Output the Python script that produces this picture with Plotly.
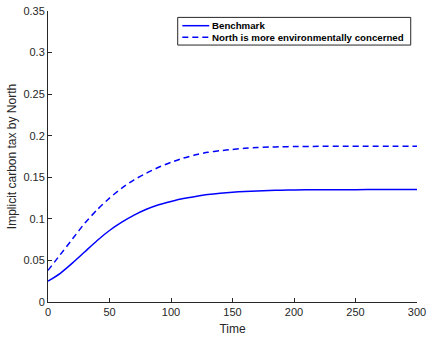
import plotly.graph_objects as go

time = [0, 10, 20, 30, 40, 50, 60, 70, 80, 90, 100, 110, 120, 130, 140, 150,
        160, 170, 180, 190, 200, 220, 240, 260, 280, 300]
benchmark = [0.025, 0.0345, 0.047, 0.0605, 0.074, 0.086, 0.096, 0.1045, 0.1115, 0.117,
             0.121, 0.1245, 0.127, 0.1292, 0.1308, 0.132, 0.1329, 0.1336, 0.1341,
             0.1345, 0.1348, 0.135, 0.1351, 0.1352, 0.1352, 0.1352]
north_concerned = [0.038, 0.057, 0.076, 0.095, 0.111, 0.125, 0.137, 0.147, 0.155, 0.162,
                   0.168, 0.173, 0.177, 0.180, 0.182, 0.1835, 0.1848, 0.1857, 0.1863,
                   0.1867, 0.187, 0.1872, 0.1873, 0.1873, 0.1873, 0.1873]

x_ticks = [0, 50, 100, 150, 200, 250, 300]
x_labels = ["0", "50", "100", "150", "200", "250", "300"]
y_ticks = [0, 0.05, 0.1, 0.15, 0.2, 0.25, 0.3, 0.35]
y_labels = ["0", "0.05", "0.1", "0.15", "0.2", "0.25", "0.3", "0.35"]

names = ["Benchmark", "North is more environmentally concerned"]
dashes = ["solid", "6px,4px"]

fig = go.Figure()
for yv, nm, ds in zip([benchmark, north_concerned], names, dashes):
    fig.add_trace(go.Scatter(x=time, y=yv, mode="lines", name=nm, showlegend=False,
                             line=dict(color="#0000ff", width=1.5, dash=ds,
                                       shape="spline", smoothing=0.6)))

axis_common = dict(showline=True, linecolor="#262626", linewidth=1, ticks="inside",
                   ticklen=4, tickcolor="#262626", tickwidth=1, showgrid=False,
                   zeroline=False, mirror=False, automargin=False,
                   tickfont=dict(family="Liberation Sans, Arial", size=11, color="#262626"))

# manual legend (MATLAB-style compact box)
leg_x0, leg_x1, leg_y0, leg_y1 = 0.3515, 0.983, 0.883, 0.978
line_x0, line_x1, text_x = 0.364, 0.437, 0.439
row_y = [0.9495, 0.9096]
shapes = [dict(type="rect", xref="paper", yref="paper", x0=leg_x0, x1=leg_x1,
               y0=leg_y0, y1=leg_y1, line=dict(color="#262626", width=1),
               fillcolor="white", layer="above")]
annotations = []
for nm, ds, ry in zip(names, dashes, row_y):
    shapes.append(dict(type="line", xref="paper", yref="paper", x0=line_x0, x1=line_x1,
                       y0=ry, y1=ry, line=dict(color="#0000ff", width=1.5, dash=ds),
                       layer="above"))
    annotations.append(dict(xref="paper", yref="paper", x=text_x, y=ry, text=nm,
                            showarrow=False, xanchor="left", yanchor="middle",
                            font=dict(family="Liberation Sans, Arial", size=9.7,
                                      color="black", weight="bold")))

fig.update_layout(
    width=428, height=339,
    margin=dict(l=48, r=11, t=11, b=37),
    paper_bgcolor="white", plot_bgcolor="white",
    font=dict(family="Liberation Sans, Arial", color="#262626"),
    xaxis=dict(range=[0, 300], tickvals=x_ticks, ticktext=x_labels,
               title=dict(text="Time", font=dict(size=12, color="#262626"), standoff=7),
               **axis_common),
    yaxis=dict(range=[0, 0.35], tickvals=y_ticks, ticktext=y_labels,
               title=dict(text="Implicit carbon tax by North", font=dict(size=12, color="#262626"), standoff=4),
               **axis_common),
    shapes=shapes,
    annotations=annotations,
    showlegend=False,
)

fig.write_html("out.html")
